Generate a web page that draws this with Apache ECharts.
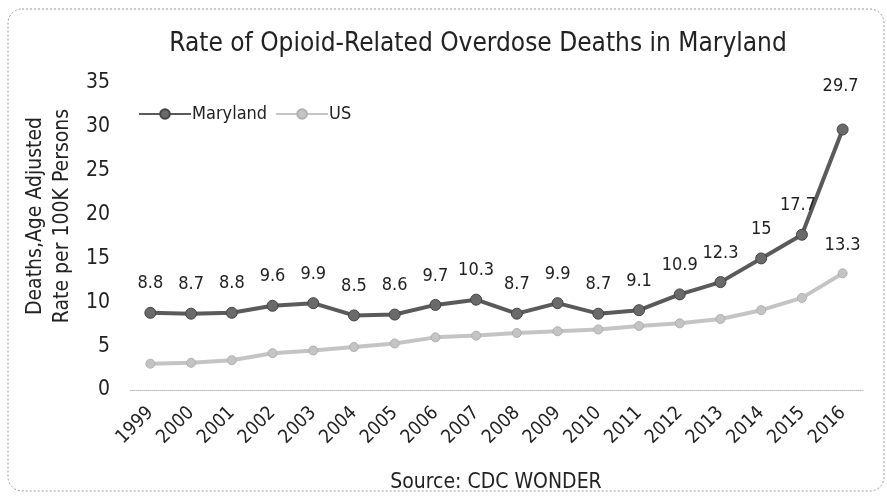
<!DOCTYPE html>
<html>
<head>
<meta charset="utf-8">
<script src="https://cdn.jsdelivr.net/npm/echarts@6/dist/echarts.min.js"></script>
<style>
html,body{margin:0;padding:0;background:#fff;}
#chart{width:887px;height:496px;}
</style>
</head>
<body>
<div id="chart"></div>
<script>
var years = ['1999','2000','2001','2002','2003','2004','2005','2006','2007','2008','2009','2010','2011','2012','2013','2014','2015','2016'];
var maryland = [8.8, 8.7, 8.8, 9.6, 9.9, 8.5, 8.6, 9.7, 10.3, 8.7, 9.9, 8.7, 9.1, 10.9, 12.3, 15, 17.7, 29.7];
var us = [3.0, 3.1, 3.4, 4.2, 4.5, 4.9, 5.3, 6.0, 6.2, 6.5, 6.7, 6.9, 7.3, 7.6, 8.1, 9.1, 10.5, 13.3];
var yTicks = [0, 5, 10, 15, 20, 25, 30, 35];

var FONT = '"DejaVu Sans Condensed", "Liberation Sans Narrow", "Liberation Sans", sans-serif';
var chart = echarts.init(document.getElementById('chart'));

var mdData = maryland.map(function (v, i) {
  var d = { value: v };
  if (i === maryland.length - 2) d.label = { offset: [-4, 0] };
  if (i === maryland.length - 1) d.label = { offset: [-2, -14] };
  return d;
});
var usData = us.map(function (v, i) {
  var d = { value: v };
  if (i === us.length - 1) d.label = { show: true };
  return d;
});

chart.setOption({
  animation: false,
  backgroundColor: '#ffffff',
  title: [{
    text: 'Rate of Opioid-Related Overdose Deaths in Maryland',
    left: 473, top: 26, textAlign: 'center',
    textStyle: { fontFamily: FONT, fontSize: 26, fontWeight: 'normal', color: '#222' }
  }, {
    text: 'Source: CDC WONDER',
    left: 491, top: 467, textAlign: 'center',
    textStyle: { fontFamily: FONT, fontSize: 21, fontWeight: 'normal', color: '#222' }
  }],
  legend: {
    left: 133, top: 100,
    itemWidth: 52, itemHeight: 12, itemGap: 8,
    textStyle: { fontFamily: FONT, fontSize: 18, color: '#222', padding: [0, 0, 0, -4] },
    data: ['Maryland', 'US']
  },
  grid: { left: 130, right: 24, top: 83, bottom: 106, containLabel: false },
  xAxis: {
    type: 'category',
    data: years,
    boundaryGap: true,
    axisLine: { show: true, lineStyle: { color: '#bbb', type: 'dotted', width: 1 } },
    axisTick: { show: false },
    axisLabel: { rotate: 45, margin: 20, fontFamily: FONT, fontSize: 19, color: '#222', interval: 0 }
  },
  yAxis: {
    type: 'value',
    min: yTicks[0], max: yTicks[yTicks.length - 1], interval: 5,
    axisLine: { show: false },
    axisTick: { show: false },
    splitLine: { show: false },
    axisLabel: { margin: 20, fontFamily: FONT, fontSize: 21, color: '#222' }
  },
  series: [{
    name: 'Maryland',
    type: 'line',
    data: mdData,
    symbol: 'circle', symbolSize: 11,
    lineStyle: { color: '#5a5a5a', width: 4 },
    itemStyle: { color: '#6a6a6a', borderColor: '#444', borderWidth: 1 },
    label: { show: true, position: 'top', distance: 14, fontFamily: FONT, fontSize: 18, color: '#222' },
    z: 3
  }, {
    name: 'US',
    type: 'line',
    data: usData,
    symbol: 'circle', symbolSize: 9,
    lineStyle: { color: '#c4c4c4', width: 4 },
    itemStyle: { color: '#c4c4c4', borderColor: '#b0b0b0', borderWidth: 1 },
    label: { show: false, position: 'top', distance: 14, fontFamily: FONT, fontSize: 18, color: '#222' },
    z: 2
  }],
  graphic: [{
    type: 'rect',
    shape: { x: 8, y: 9, width: 876, height: 482, r: 14 },
    style: { fill: 'none', stroke: '#999', lineWidth: 1, lineDash: [2, 2] },
    silent: true
  }, {
    type: 'text',
    x: 36, y: 216, rotation: Math.PI / 2,
    style: { text: 'Deaths,Age Adjusted', fontFamily: FONT, fontSize: 21, fill: '#222', textAlign: 'center', textVerticalAlign: 'middle' }
  }, {
    type: 'text',
    x: 63, y: 216, rotation: Math.PI / 2,
    style: { text: 'Rate per 100K Persons', fontFamily: FONT, fontSize: 21, fill: '#222', textAlign: 'center', textVerticalAlign: 'middle' }
  }]
});
</script>
</body>
</html>
